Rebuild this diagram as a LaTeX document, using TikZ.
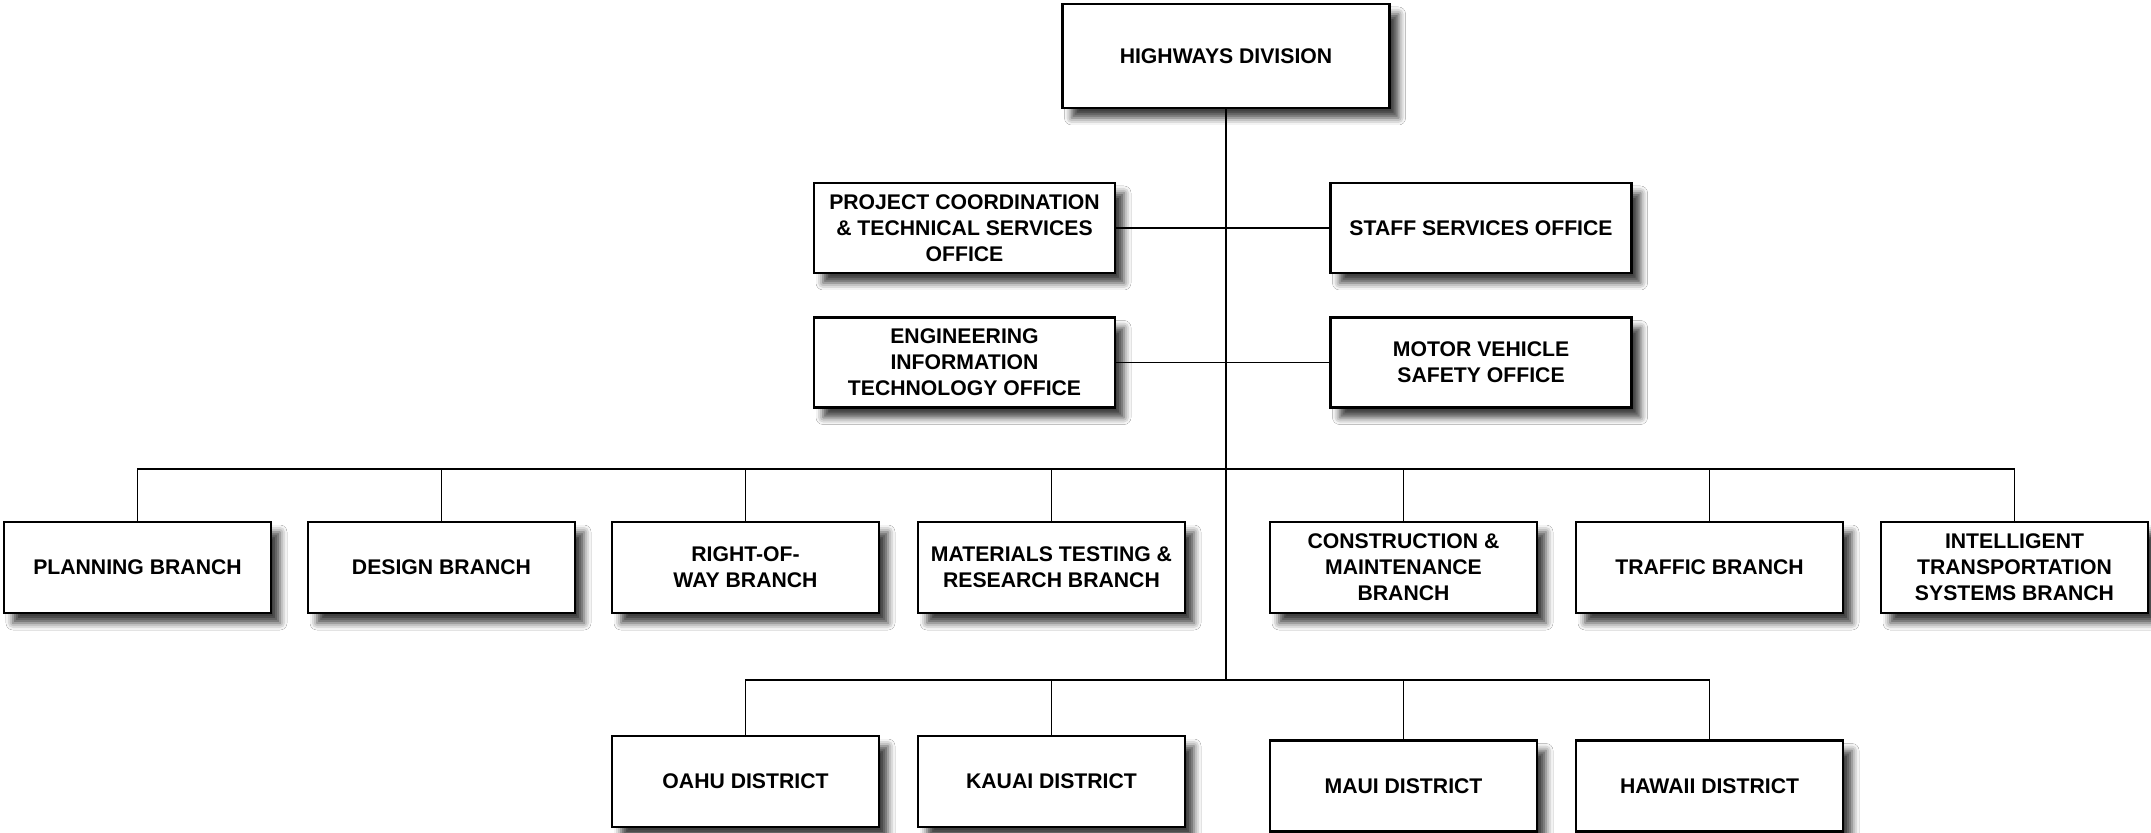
\documentclass[tikz,border=0pt]{standalone}
\usepackage{fontspec}
\setmainfont{Liberation Sans}
\usetikzlibrary{shadows.blur}

\tikzset{
    orgbox/.style={draw, line width=1.2pt, fill=white, align=center, inner sep=2pt,
        font=\bfseries\fontsize{10.6}{13}\selectfont,
        blur shadow={shadow xshift=4.5pt, shadow yshift=-5pt, shadow blur radius=3.5pt, shadow opacity=75}},
    headbox/.style={orgbox, minimum width=163.5pt, minimum height=52pt},
    officebox/.style={orgbox, minimum width=150.5pt, minimum height=45pt},
    unitbox/.style={orgbox, minimum width=133.5pt, minimum height=45.5pt},
    orgline/.style={line width=0.9pt},
    trunkline/.style={line width=1.4pt}
}

\begin{document}
\begin{tikzpicture}[x=0.5pt, y=-0.5pt]
    \useasboundingbox (0,0) rectangle (2151,833);
    \fill[white] (0,0) rectangle (2151,833);

    \coordinate (bbus) at (1226,469);
    \coordinate (dbus) at (1226,680);

    % division head and staff offices
    \node[headbox] (hwy) at (1226,56) {HIGHWAYS DIVISION};
    \node[officebox] (pcts) at (964.5,228) {PROJECT COORDINATION\\ \& TECHNICAL SERVICES\\ OFFICE};
    \node[officebox] (sso) at (1481,228) {STAFF SERVICES OFFICE};
    \node[officebox] (eito) at (964.5,362.5) {ENGINEERING\\ INFORMATION\\ TECHNOLOGY OFFICE};
    \node[officebox] (mvso) at (1481,362.5) {MOTOR VEHICLE\\ SAFETY OFFICE};

    % branches
    \node[unitbox] (plan) at (137.5,567.5) {PLANNING BRANCH};
    \node[unitbox] (dsgn) at (441.5,567.5) {DESIGN BRANCH};
    \node[unitbox] (row) at (745.5,567.5) {RIGHT-OF-\\ WAY BRANCH};
    \node[unitbox] (mtrb) at (1051.5,567.5) {MATERIALS TESTING \&\\ RESEARCH BRANCH};
    \node[unitbox] (cmb) at (1403.5,567.5) {CONSTRUCTION \&\\ MAINTENANCE\\ BRANCH};
    \node[unitbox] (trfc) at (1709.5,567.5) {TRAFFIC BRANCH};
    \node[unitbox] (its) at (2014.5,567.5) {INTELLIGENT\\ TRANSPORTATION\\ SYSTEMS BRANCH};

    % districts
    \node[unitbox] (oahu) at (745.5,781.5) {OAHU DISTRICT};
    \node[unitbox] (kauai) at (1051.5,781.5) {KAUAI DISTRICT};
    \node[unitbox] (maui) at (1403.5,786) {MAUI DISTRICT};
    \node[unitbox] (hawaii) at (1709.5,786) {HAWAII DISTRICT};

    \draw[trunkline] (hwy.south) -- (dbus);
    \draw[orgline] (pcts) -- (sso);
    \draw[orgline] (eito) -- (mvso);

    \draw[orgline] (plan.north) |- (bbus) -| (its.north);
    \foreach \b in {dsgn,row,mtrb,cmb,trfc}
        \draw[orgline] (\b.north) -- (\b.north |- bbus);

    \draw[orgline] (oahu.north) |- (dbus) -| (hawaii.north);
    \foreach \b in {kauai,maui}
        \draw[orgline] (\b.north) -- (\b.north |- dbus);
\end{tikzpicture}
\end{document}
